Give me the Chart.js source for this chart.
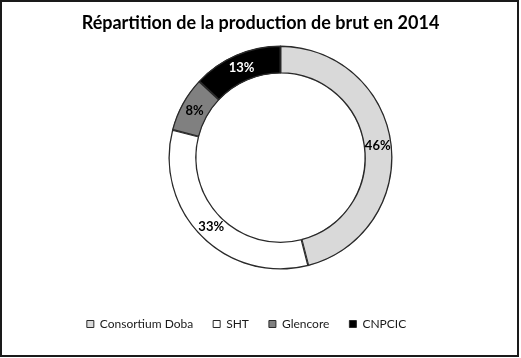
<!DOCTYPE html>
<html>
<head>
<meta charset="utf-8">
<script src="https://cdn.jsdelivr.net/npm/chart.js@4/dist/chart.umd.min.js"></script>
<style>
  html, body { margin: 0; padding: 0; background: #ffffff; }
  #wrap { position: relative; width: 521px; height: 358px; }
  canvas { display: block; }
</style>
</head>
<body>
<div id="wrap"><canvas id="c" width="521" height="358"></canvas></div>
<script>
const titleText = 'Répartition de la production de brut en 2014';
const categories = ['Consortium Doba', 'SHT', 'Glencore', 'CNPCIC'];
const values = [46, 33, 8, 13];
const percentLabels = ['46%', '33%', '8%', '13%'];

const sliceColors = ['#d9d9d9', '#ffffff', '#808080', '#000000'];
const labelColors = ['#000000', '#000000', '#000000', '#ffffff'];

const frameAndShift = {
  id: 'frameAndShift',
  afterLayout(chart) {
    const area = chart.chartArea;
    area.left += 20;
    area.right += 20;
    const target = 224;
    const cut = area.height - target;
    area.bottom -= cut;
    area.height = target;
    if (chart.legend) {
      chart.legend.left -= 14;
      chart.legend.right -= 14;
    }
  },
  afterDraw(chart) {
    const ctx = chart.ctx;
    ctx.save();
    ctx.strokeStyle = '#1a1a1a';
    ctx.lineWidth = 2;
    ctx.strokeRect(1, 1, 517, 355);
    ctx.restore();
  }
};

const sliceLabels = {
  id: 'sliceLabels',
  afterDatasetsDraw(chart) {
    const ctx = chart.ctx;
    const meta = chart.getDatasetMeta(0);
    ctx.save();
    ctx.font = 'bold 13px Lato, "Open Sans", sans-serif';
    ctx.textAlign = 'center';
    ctx.textBaseline = 'middle';
    meta.data.forEach((arc, i) => {
      const p = arc.tooltipPosition();
      ctx.fillStyle = labelColors[i];
      ctx.fillText(percentLabels[i], p.x, p.y);
    });
    ctx.restore();
  }
};

new Chart(document.getElementById('c'), {
  type: 'doughnut',
  data: {
    labels: categories,
    datasets: [{
      data: values,
      backgroundColor: sliceColors,
      borderColor: '#2a2a2a',
      borderWidth: 1,
      borderAlign: 'inner'
    }]
  },
  options: {
    responsive: false,
    animation: false,
    cutout: '75%',
    layout: { padding: { top: 8, bottom: 18, left: 0, right: 0 } },
    plugins: {
      title: {
        display: true,
        text: titleText,
        color: '#000000',
        font: { family: 'Lato, "Open Sans", sans-serif', size: 18, weight: 'bold' },
        padding: { top: 4, bottom: 12 }
      },
      legend: {
        display: true,
        position: 'bottom',
        labels: {
          color: '#1a1a1a',
          boxWidth: 7,
          boxHeight: 7,
          padding: 20,
          font: { family: 'Lato, "Open Sans", sans-serif', size: 12 }
        }
      },
      tooltip: { enabled: false }
    }
  },
  plugins: [frameAndShift, sliceLabels]
});
</script>
</body>
</html>
